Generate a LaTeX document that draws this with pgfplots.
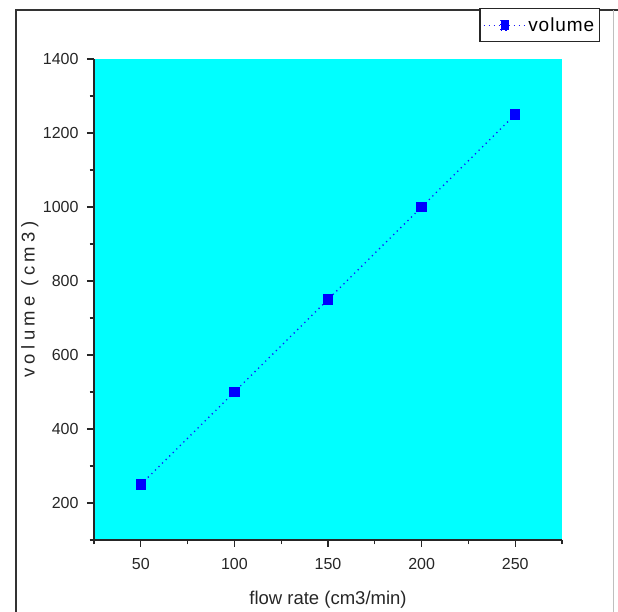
\documentclass[border=0pt]{standalone}
\usepackage{fontspec}
\setmainfont{Liberation Sans}
\usepackage{pgfplots}
\pgfplotsset{compat=1.18}
\definecolor{bgcyan}{RGB}{0,255,255}
\definecolor{ptblue}{RGB}{0,0,255}
\definecolor{lnblue}{RGB}{20,20,250}
\begin{document}
\begin{tikzpicture}[x=1pt,y=1pt]
\useasboundingbox (0,0) rectangle (618,612);
\draw[line width=1.3pt, black!80] (16,0) -- (16,602) -- (618,602);
\draw[line width=0.8pt, black!25] (613,0) -- (613,602);
\begin{axis}[
  at={(94pt,72pt)}, anchor=south west,
  scale only axis, width=468pt, height=481pt,
  xmin=25, xmax=275, ymin=100, ymax=1400,
  xtick={50,100,150,200,250},
  ytick={200,400,600,800,1000,1200,1400},
  minor xtick={25,75,125,175,225,275},
  minor ytick={100,300,500,700,900,1100,1300},
  axis x line*=bottom, axis y line*=left,
  axis line style={line width=1.3pt, black!85, -},
  tick style={line width=1.1pt, black!85},
  tick align=outside,
  major tick length=7pt, minor tick length=4.5pt,
  axis background/.style={fill=bgcyan},
  /pgf/number format/assume math mode=true,
  /pgf/number format/1000 sep={},
  ticklabel style={font=\fontsize{16}{16}\selectfont, text=black!85},
  yticklabel style={xshift=-5pt},
  xticklabel style={yshift=-8pt},
  xlabel={flow rate (cm3/min)},
  ylabel={\addfontfeature{LetterSpace=24}volume (cm3)},
  label style={font=\fontsize{18.5}{18.5}\selectfont, text=black!85},
  xlabel style={at={(axis description cs:0.5,-0.125)}, anchor=center},
  ylabel style={at={(axis description cs:-0.137,0.5)}, anchor=center},
  legend style={at={(axis description cs:1.081,1.106)}, anchor=north east,
    draw=black!85, line width=1.2pt,
    font=\fontsize{19}{19}\selectfont\addfontfeature{LetterSpace=5},
    inner xsep=3pt, inner ysep=7pt, row sep=0pt, fill=white},
  legend cell align=left,
  legend image code/.code={
    \draw[lnblue, line width=1.3pt, dash pattern=on 1.2pt off 3.8pt] (0pt,0pt) -- (42pt,0pt);
    \fill[ptblue] (17pt,-5pt) rectangle (25pt,5pt);
  },
]
\addplot[lnblue, line width=1.3pt, dash pattern=on 1.2pt off 3.8pt,
  mark=square*, mark size=4.5pt, mark options={solid, fill=ptblue, draw=ptblue}]
  coordinates {(50,250) (100,500) (150,750) (200,1000) (250,1250)};
\addlegendentry{volume}
\end{axis}
\end{tikzpicture}
\end{document}
